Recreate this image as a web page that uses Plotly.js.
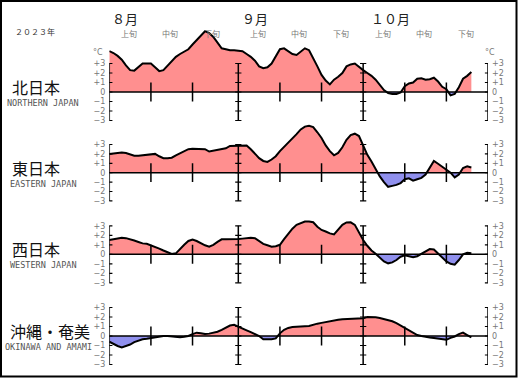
<!DOCTYPE html>
<html><head><meta charset="utf-8">
<script src="https://cdn.plot.ly/plotly-3.0.1.min.js"></script>
<style>html,body{margin:0;padding:0;background:#fff}#chart{width:518px;height:379px}</style>
</head><body><div id="chart"></div>
<script>
// ---------- data ----------
const regions = ['北日本', '東日本', '西日本', '沖縄・奄美'];
const regionsEn = ['NORTHERN JAPAN', 'EASTERN JAPAN', 'WESTERN JAPAN', 'OKINAWA AND AMAMI'];
const months = ['８月', '９月', '１０月'];
const decades = ['上旬', '中旬', '下旬'];
const yearLabel = '２０２３年';
const unitLabel = '°C';
const tickVals = [-3, -2, -1, 0, 1, 2, 3];
const tickText = ['−3', '−2', '−1', '0', '+1', '+2', '+3'];
// day index from Aug 1 (0) ; month boundaries and decade boundaries
const monthStartDays = [0, 31, 61, 91];
const decadeTickDays = [10, 20, 41, 51, 71, 81];
const decadeStartDays = [0, 10, 20, 31, 41, 51, 61, 71, 81];

const north = [4.3, 4.1, 3.8, 3.4, 2.8, 2.3, 2.25, 2.6, 3.0, 3.0, 3.0, 2.6, 2.2, 2.3, 2.8, 3.3, 3.7, 4.0, 4.25, 4.5,
  5.0, 5.5, 6.0, 6.4, 6.2, 5.8, 5.2, 4.6, 4.5, 4.4, 4.4, 4.35, 4.3, 4.0, 3.7, 3.3, 2.7, 2.5, 2.6, 3.0,
  3.8, 4.5, 4.6, 4.3, 4.0, 3.9, 4.3, 4.6, 4.4, 3.6, 2.7, 1.8, 1.2, 0.8, 1.3, 1.6, 2.0, 2.7, 2.9, 3.0,
  2.6, 2.3, 2.0, 1.7, 1.3, 0.8, 0.2, -0.1, -0.2, -0.2, -0.05, 0.6, 0.9, 1.0, 1.4, 1.45, 1.3, 1.35, 1.5, 1.1,
  0.55, 0.3, -0.35, -0.2, 0.5, 1.4, 1.7, 2.1];
const east = [2.0, 2.05, 2.1, 2.15, 2.1, 1.95, 1.8, 1.8, 1.85, 1.9, 1.95, 2.0, 1.75, 1.55, 1.55, 1.6, 1.85, 2.05, 2.3, 2.5,
  2.55, 2.55, 2.55, 2.5, 2.25, 2.35, 2.45, 2.55, 2.6, 2.85, 2.88, 2.9, 2.9, 2.9, 2.5, 2.0, 1.55, 1.25, 1.15, 1.4,
  1.75, 2.3, 2.75, 3.1, 3.6, 4.1, 4.6, 4.9, 5.0, 4.85, 4.3, 3.7, 2.9, 2.3, 1.85, 2.1, 2.7, 3.5, 4.0, 4.15,
  3.9, 2.8, 1.9, 1.2, 0.4, -0.4, -1.0, -1.5, -1.4, -1.3, -1.1, -0.7, -0.6, -0.85, -0.7, -0.55, -0.2, 0.6, 1.25, 0.95,
  0.6, 0.3, 0.0, -0.5, -0.2, 0.5, 0.67, 0.55];
const west = [1.5, 1.6, 1.72, 1.75, 1.7, 1.6, 1.45, 1.3, 1.15, 1.1, 0.95, 0.8, 0.6, 0.4, 0.2, 0.03, 0.1, 0.6, 1.0, 1.4,
  1.55, 1.4, 1.15, 0.95, 0.8, 1.0, 1.3, 1.58, 1.58, 1.58, 1.55, 1.6, 1.65, 1.7, 1.75, 1.7, 1.35, 1.1, 0.95, 0.8,
  0.85, 1.0, 1.6, 2.2, 2.7, 3.1, 3.3, 3.44, 3.44, 3.37, 2.9, 2.56, 2.4, 2.2, 2.1, 2.6, 3.1, 3.35, 3.37, 3.1,
  2.3, 1.5, 0.9, 0.4, 0.05, -0.4, -0.75, -0.95, -0.85, -0.6, -0.25, -0.1, -0.2, -0.3, -0.2, 0.05, 0.3, 0.55, 0.5, 0.05,
  -0.35, -0.75, -1.0, -1.1, -0.6, 0.0, 0.15, 0.1];
const okinawa = [-0.6, -0.85, -1.05, -1.2, -1.05, -0.9, -0.65, -0.5, -0.35, -0.3, -0.22, -0.1, -0.05, 0.0, 0.0, -0.05, -0.15, -0.12, -0.07, 0.0,
  0.2, 0.35, 0.3, 0.2, 0.25, 0.35, 0.45, 0.65, 0.9, 1.1, 1.17, 1.0, 0.8, 0.6, 0.4, 0.2, 0.0, -0.35, -0.35, -0.35,
  -0.25, 0.28, 0.65, 0.85, 0.95, 1.0, 1.0, 1.03, 1.06, 1.2, 1.3, 1.38, 1.48, 1.55, 1.63, 1.7, 1.77, 1.78, 1.8, 1.8,
  1.82, 1.87, 2.0, 2.02, 1.97, 1.9, 1.8, 1.7, 1.55, 1.35, 1.1, 0.85, 0.55, 0.3, 0.1, 0.0, -0.1, -0.15, -0.2, -0.25,
  -0.35, -0.4, -0.2, -0.05, 0.2, 0.35, 0.1, -0.14];
const series = [north, east, west, okinawa];
const days = north.map((_, i) => i);

// ---------- layout geometry (pixels) ----------
const W = 518, H = 379;
const X = px => px / W;
const Y = py => 1 - py / H;
const zeroPx = [92, 172.7, 254.3, 336];
const unitPx = [9.5, 9.4, 9.5, 9.5];
const yRanges = [[-3.6, 6.8], [-3.6, 5.4], [-3.6, 3.8], [-3.6, 3.6]];
const posColor = '#ff8f8f', negColor = '#9090ee';

function clipped(xs, ys, sign) {
  const ox = [], oy = [];
  for (let i = 0; i < ys.length; i++) {
    if (i > 0) {
      const y0 = ys[i - 1], y1 = ys[i];
      if ((y0 > 0 && y1 < 0) || (y0 < 0 && y1 > 0)) {
        const t = y0 / (y0 - y1);
        ox.push(xs[i - 1] + t * (xs[i] - xs[i - 1])); oy.push(0);
      }
    }
    ox.push(xs[i]);
    oy.push(sign > 0 ? Math.max(ys[i], 0) : Math.min(ys[i], 0));
  }
  return [ox, oy];
}

const traces = [];
const layout = {
  width: W, height: H, margin: {l: 0, r: 0, t: 0, b: 0},
  paper_bgcolor: '#fff', plot_bgcolor: 'rgba(0,0,0,0)', showlegend: false,
  xaxis: {domain: [X(109.3), X(488)], range: [0, 91], visible: false, fixedrange: true},
  shapes: [], annotations: []
};
const tickFont = {family: 'DejaVu Sans, Verdana, sans-serif', size: 8, color: '#777'};
function note(o) {
  return Object.assign({showarrow: false, xanchor: 'center', yanchor: 'middle', xref: 'paper', yref: 'paper'}, o);
}

series.forEach((vals, i) => {
  const yid = i === 0 ? 'y' : 'y' + (i + 1);
  const yname = i === 0 ? 'yaxis' : 'yaxis' + (i + 1);
  const [lo, hi] = yRanges[i];
  const z = zeroPx[i], u = unitPx[i];
  layout[yname] = {
    domain: [Y(z - lo * u), Y(z - hi * u)], range: [lo, hi], anchor: 'x',
    tickvals: tickVals, ticktext: tickText, ticks: '', showline: false, showgrid: false,
    zeroline: false, tickfont: tickFont, ticklabelstandoff: 3, fixedrange: true
  };
  layout['yaxis' + (i + 5)] = {
    overlaying: yid, side: 'right', range: [lo, hi], anchor: 'x',
    tickvals: tickVals, ticktext: tickText, ticks: '', showline: false, showgrid: false,
    zeroline: false, tickfont: tickFont, ticklabelstandoff: 3, fixedrange: true
  };
  const [px, py] = clipped(days, vals, 1);
  const [nx, ny] = clipped(days, vals, -1);
  traces.push({x: px, y: py, xaxis: 'x', yaxis: yid, mode: 'none', fill: 'tozeroy', fillcolor: posColor, hoverinfo: 'skip'});
  traces.push({x: nx, y: ny, xaxis: 'x', yaxis: yid, mode: 'none', fill: 'tozeroy', fillcolor: negColor, hoverinfo: 'skip'});
  traces.push({x: days, y: vals, xaxis: 'x', yaxis: yid, mode: 'lines', line: {color: '#000', width: 2}, hoverinfo: 'skip'});
  // invisible trace so the right-hand axis is drawn
  traces.push({x: [0], y: [0], xaxis: 'x', yaxis: 'y' + (i + 5), mode: 'markers', marker: {opacity: 0}, hoverinfo: 'skip'});

  const L = {color: '#000', width: 1.5};
  const tw = 0.75;
  layout.shapes.push({type: 'line', xref: 'x', yref: yid, x0: 0, x1: 91, y0: 0, y1: 0, line: L});
  monthStartDays.forEach(d => {
    layout.shapes.push({type: 'line', xref: 'x', yref: yid, x0: d, x1: d, y0: -3, y1: 3, line: L});
    tickVals.forEach(t => layout.shapes.push({type: 'line', xref: 'x', yref: yid, x0: d - tw, x1: d + tw, y0: t, y1: t, line: {color: '#000', width: 1.2}}));
  });
  decadeTickDays.forEach(d => layout.shapes.push({type: 'line', xref: 'x', yref: yid, x0: d, x1: d, y0: -1, y1: 1, line: L}));

  layout.annotations.push(note({x: X(i === 3 ? 50 : 36), y: Y(zeroPx[i] - 5), text: regions[i],
    font: {family: 'Noto Sans CJK JP', size: 16, color: '#111'}}));
  layout.annotations.push(note({x: X(i === 3 ? 48 : 43), y: Y(zeroPx[i] + 11), text: regionsEn[i],
    font: {family: 'DejaVu Sans Mono, Liberation Mono, monospace', size: 8.5, color: '#555'}}));
});

layout.annotations.push(note({x: X(35), y: Y(31), text: yearLabel, font: {family: 'Noto Sans CJK JP', size: 8, color: '#333'}}));
const monthPx = [125, 255, 390];
months.forEach((m, k) => layout.annotations.push(note({x: X(monthPx[k]), y: Y(18), text: m,
  font: {family: 'Noto Sans CJK JP', size: 13, color: '#222'}})));
decadeStartDays.forEach((d, k) => layout.annotations.push(note({xref: 'x', x: d + 4.7, y: Y(33), text: decades[k % 3],
  font: {family: 'Noto Sans CJK JP', size: 8, color: '#777'}})));
layout.annotations.push(note({x: X(98), y: Y(53), text: unitLabel, font: {family: 'DejaVu Sans', size: 8, color: '#777'}}));
layout.annotations.push(note({x: X(490), y: Y(53), text: unitLabel, font: {family: 'DejaVu Sans', size: 8, color: '#777'}}));

layout.shapes.push({type: 'rect', xref: 'paper', yref: 'paper', x0: X(1), x1: X(516.5), y0: Y(376.5), y1: Y(1),
  line: {color: '#000', width: 2}});

Plotly.newPlot('chart', traces, layout, {displayModeBar: false, staticPlot: true});
</script></body></html>
